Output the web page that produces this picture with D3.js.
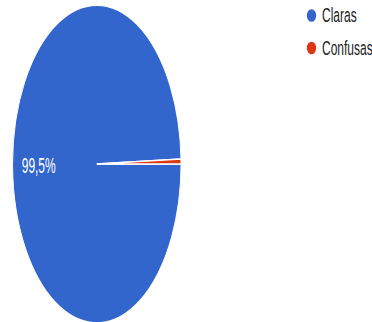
<!DOCTYPE html>
<html>
<head>
<meta charset="utf-8">
<script src="https://cdn.jsdelivr.net/npm/d3@7"></script>
<style>
html,body{margin:0;padding:0;background:#fff;overflow:hidden;}
svg{display:block;}
</style>
</head>
<body>
<svg id="chart" width="372" height="322"></svg>
<script>
const categories = ["Claras", "Confusas"];
const values = [99.5, 0.5];
const labels = ["99,5%", ""];
const colors = ["#3366cc", "#dc3912"];

const svg = d3.select("#chart");
const cx = 96.8, cy = 164, r = 84.2, sy = 1.888;

const pie = d3.pie().sort(null).value(d => d)
  .startAngle(Math.PI / 2).endAngle(Math.PI / 2 + 2 * Math.PI);
const arcs = pie(values);
const arc = d3.arc().innerRadius(0).outerRadius(r);
const labelArc = d3.arc().innerRadius(r * 0.69).outerRadius(r * 0.69);

const g = svg.append("g").attr("transform", `translate(${cx},${cy}) scale(1,${sy})`);
g.selectAll("path").data(arcs).join("path")
  .attr("d", arc)
  .attr("fill", (d, i) => colors[i])
  .attr("stroke", "#fff")
  .attr("stroke-width", 0.9);

arcs.forEach((d, i) => {
  if (!labels[i]) return;
  const [x, y] = labelArc.centroid(d);
  svg.append("text")
    .attr("transform", `translate(${cx + x},${cy + y * sy}) scale(1,1.85)`)
    .attr("text-anchor", "middle")
    .attr("dy", "0.35em")
    .attr("font-family", "Arial, 'Liberation Sans', sans-serif")
    .attr("font-size", 12)
    .attr("fill", "#fff")
    .text(labels[i]);
});

const legendY = d3.scalePoint().domain(categories).range([15.5, 48]);
const lg = svg.append("g");
categories.forEach((c, i) => {
  const y = legendY(c);
  lg.append("ellipse").attr("cx", 311.5).attr("cy", y).attr("rx", 4.7).attr("ry", 6.3)
    .attr("fill", colors[i]);
  lg.append("text")
    .attr("transform", `translate(322,${y}) scale(1,1.62)`)
    .attr("dy", "0.35em")
    .attr("font-family", "Arial, 'Liberation Sans', sans-serif")
    .attr("font-size", 12)
    .attr("fill", "#222")
    .text(c);
});
</script>
</body>
</html>
